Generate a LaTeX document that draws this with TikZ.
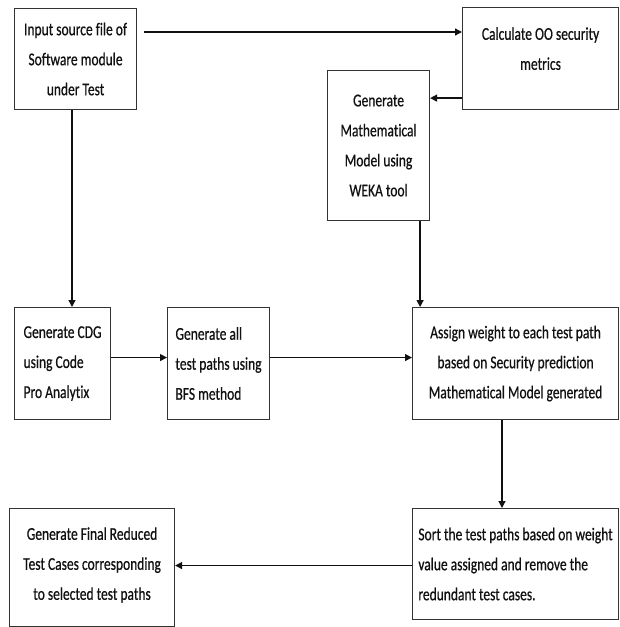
\documentclass[tikz,border=0pt]{standalone}
\usepackage{fontspec}
\setmainfont[FakeStretch=0.75, Ligatures=NoCommon, RawFeature={embolden=0.6}]{Carlito}
\usetikzlibrary{calc,arrows.meta}
\definecolor{boxc}{HTML}{333333}
\definecolor{linec}{HTML}{111111}
\definecolor{txt}{HTML}{111111}
\begin{document}
\begin{tikzpicture}[x=1pt,y=-1pt,
  box/.style={draw=boxc, line width=1.1pt, inner sep=0pt, anchor=north west,
    font=\fontsize{18}{30}\selectfont, text=txt},
  arr/.style={draw=linec, line width=1.3pt, -{Triangle[length=7pt,width=7pt]}}]
\useasboundingbox (0,0) rectangle (619,627);
\fill[white] (0,0) rectangle (619,627);

\node[box, minimum width=122pt, minimum height=101pt, align=center] (b1) at (14,8)
  {Input source file of\\Software module\\under Test};
\node[box, minimum width=156pt, minimum height=102pt, align=center] (b2) at (462,7)
  {Calculate OO security\\metrics\\[-10pt]};
\node[box, minimum width=102pt, minimum height=150pt, align=center] (b3) at (327,70)
  {Generate\\Mathematical\\Model using\\WEKA tool};
\node[box, minimum width=96pt, minimum height=112pt, align=left] (b4) at (14,307)
  {Generate CDG\\using Code\\Pro Analytix};
\node[box, minimum width=102pt, minimum height=112pt, align=left] (b5) at (167,307)
  {Generate all\\test paths using\\BFS method};
\node[box, minimum width=206pt, minimum height=112pt, align=center] (b6) at (412,307)
  {Assign weight to each test path\\based on Security prediction\\Mathematical Model generated};
\node[box, minimum width=206pt, minimum height=111pt, align=left] (b7) at (412,508)
  {Sort the test paths based on weight\\value assigned and remove the\\redundant test cases.};
\node[box, minimum width=165pt, minimum height=118pt, align=center] (b8) at (9,508)
  {Generate Final Reduced\\Test Cases corresponding\\to selected test paths\\[-22pt]};

\coordinate (a1) at ($(b1.north east)+(7,24)$);
\draw[arr] (a1) -- (a1 -| b2.west);
\coordinate (a2) at ($(b2.south west)+(0,-12)$);
\draw[arr] (a2) -- (a2 -| b3.east);
\coordinate (a3) at ($(b3.south east)+(-10,0)$);
\draw[arr] (a3) -- (a3 |- b6.north);
\coordinate (a4) at ($(b1.south west)+(58,0)$);
\draw[arr] (a4) -- (a4 |- b4.north);
\coordinate (a5) at ($(b4.east)+(0,-6)$);
\draw[arr] (a5) -- (a5 -| b5.west);
\coordinate (a6) at ($(b5.east)+(0,-6)$);
\draw[arr] (a6) -- (a6 -| b6.west);
\coordinate (a7) at ($(b6.south west)+(90,0)$);
\draw[arr] (a7) -- (a7 |- b7.north);
\coordinate (a8) at ($(b7.west)+(0,1.5)$);
\draw[arr] (a8) -- (a8 -| b8.east);
\end{tikzpicture}
\end{document}
